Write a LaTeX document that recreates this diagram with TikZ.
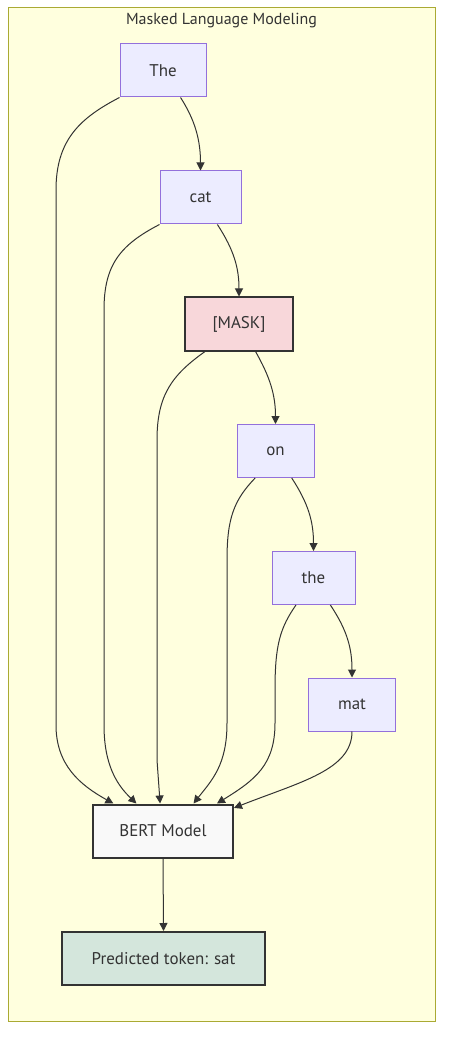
\documentclass[tikz,border=0pt]{standalone}
\usepackage{fontspec}
\setmainfont{PT Sans}
\usetikzlibrary{arrows.meta}

\definecolor{groupfill}{HTML}{FFFFDE}
\definecolor{groupline}{HTML}{AAAA33}
\definecolor{wordfill}{HTML}{ECECFF}
\definecolor{wordline}{HTML}{9370DB}
\definecolor{maskfill}{HTML}{F8D7DA}
\definecolor{bertfill}{HTML}{F9F9F9}
\definecolor{predfill}{HTML}{D4E6DC}
\definecolor{ink}{HTML}{333333}

\tikzset{
	word/.style={draw=wordline, fill=wordfill, line width=0.75pt, minimum height=39.75pt, inner sep=0pt, text=ink, font=\fontsize{12.7}{15}\selectfont},
	heavy/.style={word, draw=ink, line width=1.5pt},
	link/.style={draw=ink, line width=0.75pt, -{Triangle[length=6pt,width=6pt]}},
}

\begin{document}
\begin{tikzpicture}[x=0.75pt, y=-0.75pt]
	\useasboundingbox (0,0) rectangle (451,1048);
	% the group box
	\draw[fill=groupfill, draw=groupline, line width=0.75pt] (8,8) rectangle (435,1021);
	\node[text=ink, font=\fontsize{12}{14}\selectfont] (title) at (221.5,21) {Masked Language Modeling};

	% Define the nodes with specific positions
	\node[word, minimum width=64.5pt] (The) at (163,70.5) {The};
	\node[word, minimum width=60.75pt] (cat) at (200.5,197.5) {cat};
	\node[heavy, fill=maskfill, minimum width=81pt] (mask) at (239,324) {[MASK]};
	\node[word, minimum width=57.75pt] (on) at (275.5,451) {on};
	\node[word, minimum width=62.25pt] (the) at (313.5,578) {the};
	\node[word, minimum width=64.9pt] (mat) at (352,704.5) {mat};
	\node[heavy, fill=bertfill, minimum width=105pt] (bert) at (163,831) {BERT Model};
	\node[heavy, fill=predfill, minimum width=152.25pt] (pred) at (163.5,958.5) {Predicted token: sat};

	% the chain of words
	\draw[link] (The.-57) .. controls (195,120) and (200.5,140) .. (cat.north);
	\draw[link] (cat.-58) .. controls (234,250) and (239,268) .. (mask.north);
	\draw[link] (mask.-59.4) .. controls (270,377) and (275.5,395) .. (on.north);
	\draw[link] (on.-59.7) .. controls (308,503) and (313.5,521) .. (the.north);
	\draw[link] (the.-58) .. controls (347,630) and (352,648) .. (mat.north);

	% every word goes into the model
	\draw[link] (The.south west) .. controls (80,118) and (56,140) .. (56,190) -- (56,725) .. controls (56,765) and (80,785) .. (bert.151);
	\draw[link] (cat.south west) .. controls (120,245) and (104,265) .. (104,310) -- (104,725) .. controls (104,765) and (117,785) .. (bert.134.5);
	\draw[link] (mask.-141.5) .. controls (172,375) and (157,395) .. (157,440) -- (157,760) -- (bert.96.5);
	\draw[link] (on.-127.7) .. controls (234,500) and (227,518) .. (227,560) -- (227,723) .. controls (227,765) and (212,780) .. (bert.42.4);
	\draw[link] (the.-123.4) .. controls (280,628) and (275,645) .. (275,690) -- (275,723) .. controls (275,765) and (255,780) .. (bert.27.9);
	\draw[link] (mat.south) .. controls (352,770) and (300,782) .. (bert.18);
	\draw[link] (bert.south) -- (pred.north);
\end{tikzpicture}
\end{document}
